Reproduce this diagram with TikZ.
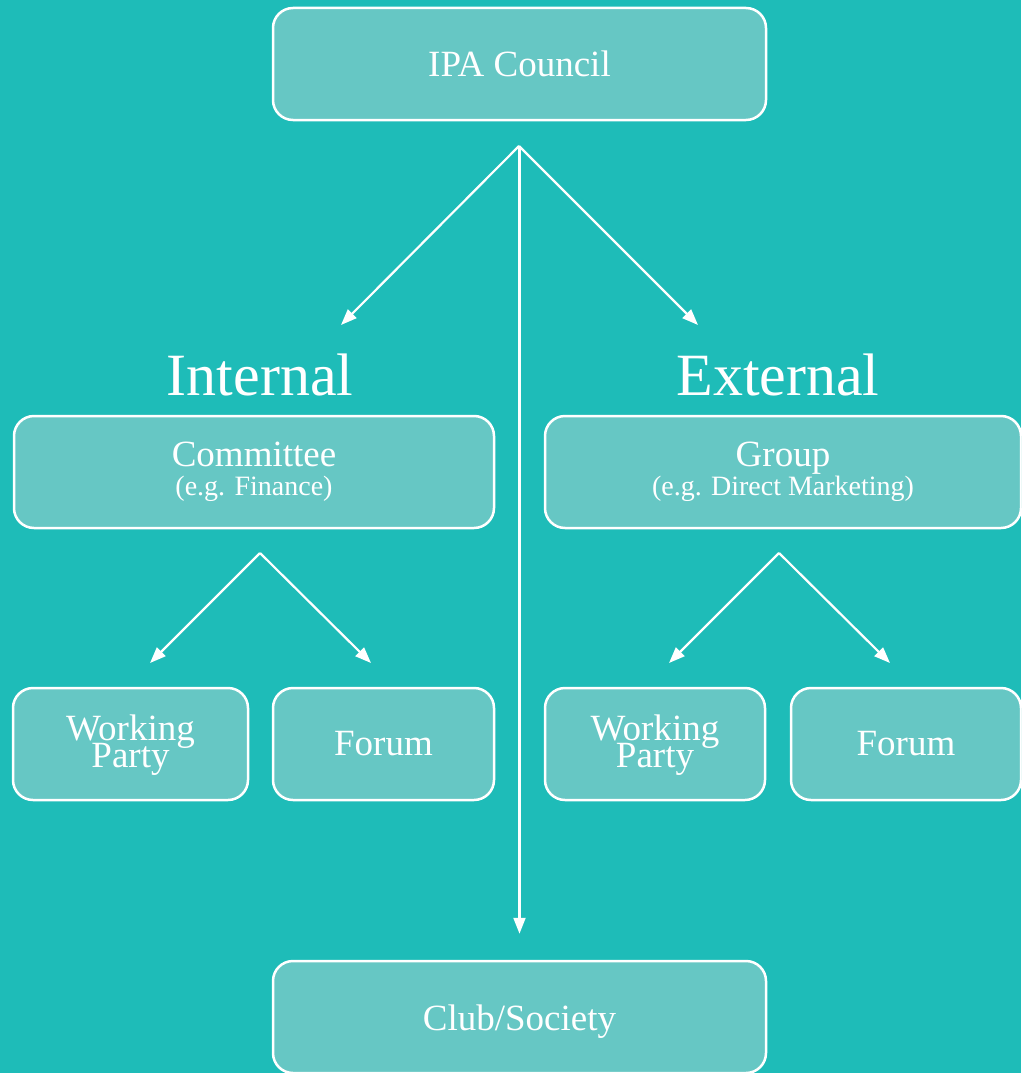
\documentclass[tikz,border=0pt]{standalone}
\usepackage{fontspec}
\setmainfont{Liberation Serif}
\usetikzlibrary{arrows.meta}
\definecolor{bgteal}{HTML}{1EBCB8}
\definecolor{boxteal}{HTML}{66C7C4}
\begin{document}
\begin{tikzpicture}[x=1pt,y=-1pt,
  box/.style={draw=white, line width=2.5pt, fill=boxteal, rounded corners=20pt,
    minimum height=112pt, text=white, align=center, inner sep=0pt,
    font=\fontsize{37}{28}\selectfont},
  biglabel/.style={text=white, font=\fontsize{60}{60}\selectfont, anchor=base, inner sep=0pt},
  arr/.style={draw=white, line width=2.2pt, -{Triangle[length=16pt,width=12pt]}}
]
\useasboundingbox (0,0) rectangle (1021,1073);
\fill[bgteal] (0,0) rectangle (1021,1073);
\clip (0,0) rectangle (1021,1073);

\node[box, minimum width=493pt] (council) at (519.5,64) {IPA Council};
\node[box, minimum width=480pt] (committee) at (254,472) {Committee\\[1pt]{\fontsize{28}{28}\selectfont (e.g. Finance)}};
\node[box, minimum width=476pt] (group) at (783,472) {Group\\[1pt]{\fontsize{28}{28}\selectfont (e.g. Direct Marketing)}};
\node[box, minimum width=235pt] (wp1) at (130.5,744) {\raisebox{-3pt}[\height][\depth]{Working}\\[-3pt]Party};
\node[box, minimum width=221pt] (forum1) at (383.5,744) {Forum};
\node[box, minimum width=220pt] (wp2) at (655,744) {\raisebox{-3pt}[\height][\depth]{Working}\\[-3pt]Party};
\node[box, minimum width=230pt] (forum2) at (906,744) {Forum};
\node[box, minimum width=493pt] (club) at (519.5,1017) {\raisebox{-5pt}[\height][\depth]{Club/Society}};

\node[biglabel] (internal) at (260,395) {Internal};
\node[biglabel] (external) at (778,395) {External};

\coordinate (top) at (519,146);
\coordinate (topL) at (341,325);
\coordinate (topR) at (698,325);
\coordinate (inApex) at (260,553);
\coordinate (inL) at (150,663);
\coordinate (inR) at (371,663);
\coordinate (exApex) at (779,553);
\coordinate (exL) at (669,663);
\coordinate (exR) at (890,663);

\draw[arr] (top) -- (topL);
\draw[arr] (top) -- (topR);
\draw[arr, shorten <=26pt, shorten >=26pt] (council.south) -- (club.north);
\draw[arr] (inApex) -- (inL);
\draw[arr] (inApex) -- (inR);
\draw[arr] (exApex) -- (exL);
\draw[arr] (exApex) -- (exR);
\end{tikzpicture}
\end{document}
